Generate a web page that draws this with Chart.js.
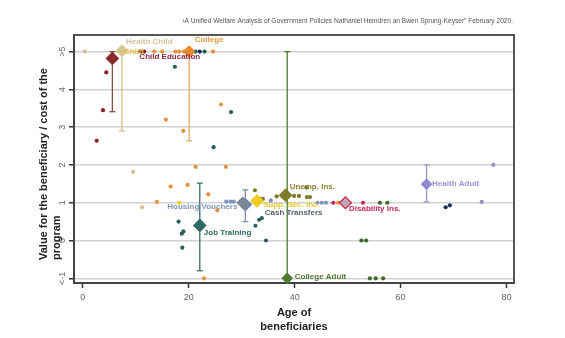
<!DOCTYPE html>
<html><head><meta charset="utf-8">
<script src="https://cdn.jsdelivr.net/npm/chart.js@4/dist/chart.umd.min.js"></script>
<style>html,body{margin:0;padding:0;background:#fff}</style>
</head><body>
<canvas id="c" width="565" height="338"></canvas>
<script>
// ---------- DATA ----------
const programs = ["Child Education","Health Child","College","Job Training","Housing Vouchers","Cash Transfers","Supp. Sec. Inc.","Unemp. Ins.","Disability Ins.","Health Adult","College Adult"];
const meanAge  = [5.6, 7.4, 20.1, 22.1, 30.7, 30.2, 32.9, 38.3, 49.6, 64.9, 38.6];
const meanMvpf = [4.82, 5.02, 5.0, 0.4, 0.95, 1.0, 1.05, 1.2, 1.0, 1.49, -1.0];
const ciLow    = [3.41, 2.9, 2.64, -0.8, 0.5, null, null, null, null, 1.02, -1.0];
const ciHigh   = [5.0, 5.02, 5.0, 1.52, 1.34, null, null, null, null, 2.0, 5.0];

const childEduAges   = [10.9, 11.6, 4.45, 3.83, 2.64];
const childEduValues = [5, 5, 4.45, 3.45, 2.64];
const healthChildAges   = [0.4, 9.5, 11.2];
const healthChildValues = [5, 1.82, 0.88];
const collegeAges   = [13.5, 15.0, 17.5, 18.2, 19.1, 24.6, 26.1, 15.7, 19.0, 21.3, 27.0, 16.6, 19.8, 23.7, 14.0, 25.4, 22.9, 48.2];
const collegeValues = [5, 5, 5, 5, 5, 5, 3.6, 3.2, 2.9, 1.95, 1.95, 1.43, 1.47, 1.22, 1.02, 0.8, -1.0, 1.0];
const jobTrainingAges   = [21.3, 23.0, 17.4, 28.0, 24.7, 18.1, 18.7, 19.0, 18.8];
const jobTrainingValues = [5, 5, 4.6, 3.4, 2.47, 0.5, 0.18, 0.24, -0.19];
const navyAges   = [22.1, 68.5, 69.3];
const navyValues = [5, 0.88, 0.93];
const housingAges   = [27.1, 27.9, 28.5, 35.5, 44.3, 45.1, 45.9];
const housingValues = [1.03, 1.03, 1.03, 1.06, 1.0, 1.0, 1.0];
const cashAges   = [32.6, 33.3, 33.8, 34.6];
const cashValues = [0.39, 0.55, 0.59, 0.0];
const suppSecAges   = [18.2];
const suppSecValues = [1.0];
const unempAges   = [32.5, 33.5, 34.0, 36.6, 37.7, 39.9, 40.8, 42.3, 42.9, 42.2];
const unempValues = [1.33, 1.1, 1.1, 1.17, 1.17, 1.18, 1.18, 1.15, 1.15, 1.4];
const disabilityAges   = [47.3, 52.9];
const disabilityValues = [1.0, 1.0];
const healthAdultAges   = [75.3, 77.5];
const healthAdultValues = [1.02, 2.0];
const collegeAdultAges   = [52.6, 53.5, 54.2, 55.3, 56.7, 56.1, 57.5];
const collegeAdultValues = [0, 0, -1, -1, -1, 1, 1];

const yTickLabels = {"5": ">5", "-1": "<-1"};
const noteText = "\u00b9A Unified Welfare Analysis of Government Policies Nathaniel Hemdren an Bwen Sprung-Keyser\" February 2020.";
const xTitle = ["Age of", "beneficiaries"];
const yTitle = ["Value for the beneficiary / cost of the", "program"];

// ---------- STYLE ----------
const FONT = "'Liberation Sans', Arial, sans-serif";
const programColors = ["#8B2A2A","#D8C48E","#E8892B","#2A6A62","#6F88A8","#7A8795","#F2CD1E","#7E7B2B","#C0A8AE","#8F89D2","#4F7A2E"];
const programBorders = ["#8B2A2A","#D8C48E","#E8892B","#2A6A62","#6F88A8","#7A8795","#F2CD1E","#7E7B2B","#C8285A","#8F89D2","#4F7A2E"];
const ciColors = ["#8B4A4A","#D8C08A","#E3A868","#3C6F6A","#8090A8",null,null,null,null,"#9A95D0","#4F7A2E"];
const meanRadius = [6, 5.5, 5.5, 6, 6, 5.5, 6, 6, 6, 5, 5];
const labelColors = ["#8B2A3A","#D4C596","#E99A3A","#2A6A62","#7F95B5","#555F66","#E8C830","#8A7F2A","#C8285A","#9A93D5","#4F7A2E"];
const labelOffsets = [[27,-2,"left"],[4,-9,"left"],[5.5,-12,"left"],[4,7,"left"],[-8,2,"right"],[22,10,"left"],[6,4,"left"],[4,-8,"left"],[3.5,6.5,"left"],[5.5,0,"left"],[7.5,-1.5,"left"]];

const zip = (a, b) => a.map((v, i) => ({x: v, y: b[i]}));
const dotSets = [
  [childEduAges, childEduValues, "#8B1E2B"],
  [healthChildAges, healthChildValues, "#D2C08E"],
  [collegeAges, collegeValues, "#E8913A"],
  [jobTrainingAges, jobTrainingValues, "#24605A"],
  [navyAges, navyValues, "#1E2A55"],
  [housingAges, housingValues, "#7C95C0"],
  [cashAges, cashValues, "#2E5F62"],
  [suppSecAges, suppSecValues, "#F0CC20"],
  [unempAges, unempValues, "#7B7A2C"],
  [disabilityAges, disabilityValues, "#C7245A"],
  [healthAdultAges, healthAdultValues, "#9390C0"],
  [collegeAdultAges, collegeAdultValues, "#3F6A2A"]
];

const datasets = [];
datasets.push({
  type: 'scatter', label: 'means', order: 0, clip: false,
  data: zip(meanAge, meanMvpf),
  pointStyle: 'rectRot', pointRadius: meanRadius,
  pointBackgroundColor: programColors, pointBorderColor: programBorders, pointBorderWidth: 1.2
});
programs.forEach((p, i) => {
  if (ciLow[i] === null) return;
  datasets.push({
    type: 'line', label: p + ' CI', order: 1, clip: false,
    data: [{x: meanAge[i], y: ciLow[i]}, {x: meanAge[i], y: ciHigh[i]}],
    borderColor: ciColors[i], borderWidth: 1.3, pointStyle: 'line', pointRadius: 3,
    pointBorderColor: ciColors[i], pointBorderWidth: 1.3, fill: false
  });
});
dotSets.forEach(([a, v, c]) => {
  datasets.push({
    type: 'scatter', order: 2, data: zip(a, v),
    pointRadius: 2.1, pointBackgroundColor: c, pointBorderWidth: 0, pointBorderColor: c
  });
});

const decoPlugin = {
  id: 'deco',
  afterDraw(chart) {
    const ctx = chart.ctx, ca = chart.chartArea;
    ctx.save();
    // frame top & right
    ctx.strokeStyle = '#555'; ctx.lineWidth = 2;
    ctx.beginPath();
    ctx.moveTo(ca.left, ca.top); ctx.lineTo(ca.right, ca.top); ctx.lineTo(ca.right, ca.bottom);
    ctx.stroke();
    // program labels
    const meta = chart.getDatasetMeta(0);
    ctx.font = "bold 8px " + FONT; ctx.textBaseline = 'middle';
    programs.forEach((p, i) => {
      const el = meta.data[i]; const [dx, dy, al] = labelOffsets[i];
      ctx.fillStyle = labelColors[i]; ctx.textAlign = al;
      ctx.fillText(p, el.x + dx, el.y + dy);
    });
    // stray "Child" label
    const hc = meta.data[1];
    ctx.fillStyle = '#E3C040'; ctx.textAlign = 'left';
    ctx.fillText("Child", hc.x + 2, hc.y + 1.3);
    // note
    ctx.font = "6.6px " + FONT; ctx.fillStyle = '#555'; ctx.textAlign = 'right';
    ctx.fillText(noteText, ca.right - 1, 21.5);
    // x title
    ctx.font = "bold 11px " + FONT; ctx.fillStyle = '#222'; ctx.textAlign = 'center';
    const cx = (ca.left + ca.right) / 2;
    ctx.fillText(xTitle[0], cx, ca.bottom + 30);
    ctx.fillText(xTitle[1], cx, ca.bottom + 43.5);
    // y title
    ctx.translate(44, 260); ctx.rotate(-Math.PI / 2);
    ctx.textAlign = 'left';
    ctx.fillText(yTitle[0], 0, 0);
    ctx.fillText(yTitle[1], 0, 13);
    ctx.restore();
  }
};

new Chart(document.getElementById('c'), {
  type: 'scatter',
  data: { datasets },
  options: {
    responsive: false, animation: false, devicePixelRatio: 1,
    layout: { padding: { top: 35, right: 51, left: 0, bottom: 0 } },
    plugins: { legend: { display: false }, tooltip: { enabled: false }, title: { display: false } },
    scales: {
      x: {
        type: 'linear', min: -1.64, max: 81.4,
        afterFit(s) { s.height = 55; },
        ticks: { stepSize: 20, includeBounds: false, maxRotation: 0, color: '#666', padding: 4, font: { size: 9, family: FONT } },
        grid: { color: 'rgba(0,0,0,0)', tickColor: '#333', tickLength: 5, tickWidth: 1.5 },
        border: { color: '#444', width: 2 }
      },
      y: {
        type: 'linear', min: -1.125, max: 5.44,
        afterFit(s) { s.width = 74; },
        ticks: {
          stepSize: 1, includeBounds: false, minRotation: 90, maxRotation: 90, crossAlign: 'center', padding: 0,
          color: '#666', font: { size: 9, family: FONT },
          callback: v => yTickLabels[String(v)] || String(v)
        },
        grid: { color: '#d2d2d2', lineWidth: 1.5, tickColor: '#333', tickLength: 5, tickWidth: 1.5 },
        border: { color: '#444', width: 2 }
      }
    }
  },
  plugins: [decoPlugin]
});
</script>
</body></html>
